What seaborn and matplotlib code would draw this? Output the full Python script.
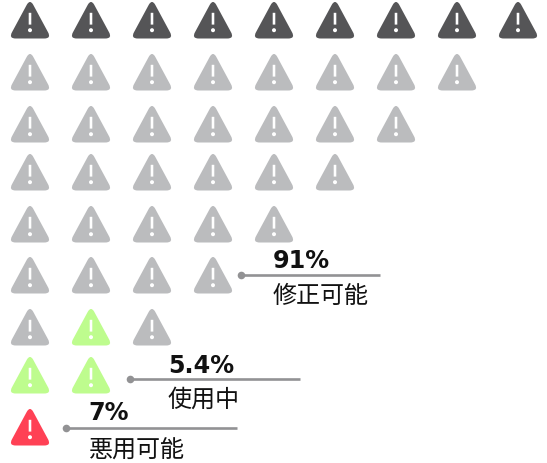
import matplotlib
matplotlib.use("Agg")
import matplotlib.pyplot as plt
import numpy as np
import pandas as pd
import seaborn as sns
from matplotlib.path import Path

# Pictogram grid: each row holds one icon fewer than the row above it
row_counts = [9, 8, 7, 6, 5, 4, 3, 2, 1]
row_positions = [22, 74, 126, 174, 226, 277, 329, 377, 429]
column_positions = [30, 91, 152, 213, 274, 335, 396, 457, 518]

# Icons that carry a status other than the default (row, column)
usable_icons = [(6, 1), (7, 0), (7, 1)]
exploited_icons = [(8, 0)]
header_row = 0

status_colors = {
    "header": "#555557",
    "fixable": "#bbbcbe",
    "in_use": "#befc8e",
    "exploitable": "#ff4155",
}

# Callouts
callout_values = ["91%", "5.4%", "7%"]
callout_names = ["修正可能", "使用中", "悪用可能"]
callout_starts = [241, 130, 66]
callout_ends = [380, 300, 237]
callout_levels = [276, 380, 428.5]
callout_text_x = [272.5, 168, 88.5]
value_text_y = [261, 366, 413]
name_text_y = [296, 400, 451]

line_color = "#929294"
text_color = "#111111"
cjk_family = ["Noto Sans CJK JP", "DejaVu Sans"]

# Icon geometry in pixels around the marker centre
CORNER_REACH = 21.4
ICON_APEX = 22.2
ICON_BASE = -17.5


def warning_icon():
    """Rounded warning triangle with a knocked-out exclamation mark."""
    apex = np.array([0.0, ICON_APEX])
    right = np.array([CORNER_REACH, ICON_BASE])
    left = np.array([-CORNER_REACH, ICON_BASE])

    def toward(a, b, dist):
        return a + (b - a) / np.linalg.norm(b - a) * dist

    cut = 7.0
    verts = [
        toward(apex, left, cut), apex, toward(apex, right, cut),
        toward(right, apex, cut), right, toward(right, left, cut),
        toward(left, right, cut), left, toward(left, apex, cut),
        toward(apex, left, cut),
    ]
    codes = [Path.MOVETO, Path.CURVE3, Path.CURVE3,
             Path.LINETO, Path.CURVE3, Path.CURVE3,
             Path.LINETO, Path.CURVE3, Path.CURVE3,
             Path.LINETO]

    # Bar of the exclamation mark, wound against the outline to cut a hole
    half = 1.3
    bar = [(-half, 8.2), (-half, -3.6), (half, -3.6), (half, 8.2), (-half, 8.2)]
    verts += [np.array(p) for p in bar]
    codes += [Path.MOVETO, Path.LINETO, Path.LINETO, Path.LINETO, Path.CLOSEPOLY]

    # Dot of the exclamation mark
    dot = Path.circle(center=(0, -9.2), radius=2.0)
    verts += list(dot.vertices)
    codes += list(dot.codes)
    return Path(np.array(verts), codes)


def icon_status(row, col):
    if (row, col) in exploited_icons:
        return "exploitable"
    if (row, col) in usable_icons:
        return "in_use"
    return "header" if row == header_row else "fixable"


records = [
    {
        "x": column_positions[c],
        "y": row_positions[r],
        "status": icon_status(r, c),
    }
    for r, n in enumerate(row_counts)
    for c in range(n)
]
icons = pd.DataFrame(records)

sns.set_theme(style="white")
plt.rcParams["font.family"] = cjk_family

fig = plt.figure(figsize=(5.47, 4.64), dpi=100, facecolor="white")
ax = fig.add_axes([0, 0, 1, 1])

# Custom markers are normalised to their largest coordinate
icon_size_pt = 2 * max(CORNER_REACH, ICON_APEX) * 72 / 100
sns.scatterplot(
    data=icons, x="x", y="y", hue="status", palette=status_colors,
    marker=warning_icon(), s=icon_size_pt ** 2, linewidth=0,
    legend=False, ax=ax, zorder=2,
)

for value, name, x0, x1, level, tx, vy, ny in zip(
    callout_values, callout_names, callout_starts, callout_ends,
    callout_levels, callout_text_x, value_text_y, name_text_y,
):
    sns.lineplot(x=[x0, x1], y=[level, level], color=line_color, lw=1.9,
                 solid_capstyle="butt", ax=ax, zorder=3, errorbar=None)
    ax.scatter([x0], [level], s=30, color=line_color, linewidth=0, zorder=4)
    ax.text(tx, vy, value, fontsize=17.2, fontweight="bold", color=text_color,
            family="DejaVu Sans", ha="left", va="center")
    ax.text(tx, ny, name, fontsize=17.3, color=text_color,
            family=cjk_family, ha="left", va="center")

ax.set_xlim(0, 547)
ax.set_ylim(464, 0)
ax.set_xlabel("")
ax.set_ylabel("")
ax.axis("off")

fig.savefig("out.png", dpi=100, facecolor="white")
